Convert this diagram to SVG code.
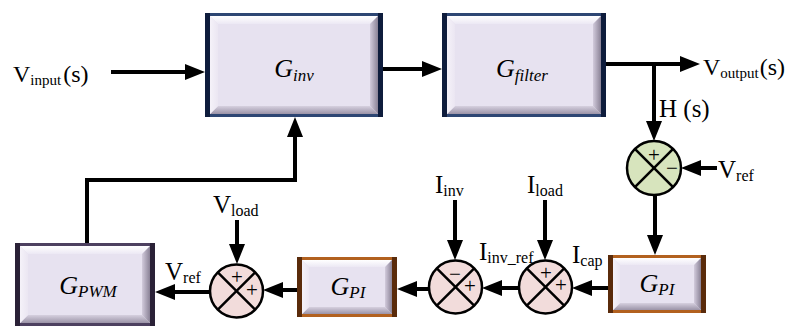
<svg xmlns="http://www.w3.org/2000/svg" width="789" height="327" viewBox="0 0 789 327">
<defs>
<style>
.face{fill:#e7e2f0}
.bt{fill:url(#gbt)}
.bb{fill:url(#gbb)}
.bl{fill:url(#gbl)}
.br{fill:url(#gbr)}
.navyS{fill:#0e1c3c}
.navyT{fill:#2d4673}
.purS{fill:#2a2137}
.purT{fill:#4d4060}
.brnS{fill:#5a2b0b}
.brnT{fill:#b2611f}
.wire{fill:none;stroke:#000;stroke-width:4;marker-end:url(#arr)}
.sum{stroke:#000;stroke-width:2.5}
.xl{stroke:#000;stroke-width:2.5}
.lbl{font-family:"Liberation Serif","Times New Roman",serif;font-size:25px;fill:#000}
.sub{font-size:16px}
.g{font-family:"Liberation Serif","Times New Roman",serif;font-style:italic;font-size:26px;fill:#000}
.gs{font-size:17px}
.sign{font-family:"Liberation Serif","Times New Roman",serif;font-size:21px;fill:#000;text-anchor:middle}
</style>
<linearGradient id="gbt" x1="0" y1="0" x2="0" y2="1"><stop offset="0" stop-color="#ffffff"/><stop offset="1" stop-color="#ece8f4"/></linearGradient>
<linearGradient id="gbb" x1="0" y1="0" x2="0" y2="1"><stop offset="0" stop-color="#d6d0df"/><stop offset="1" stop-color="#9b93a7"/></linearGradient>
<linearGradient id="gbl" x1="0" y1="0" x2="1" y2="0"><stop offset="0" stop-color="#f5f2f9"/><stop offset="1" stop-color="#ebe6f2"/></linearGradient>
<linearGradient id="gbr" x1="0" y1="0" x2="1" y2="0"><stop offset="0" stop-color="#d2cbdc"/><stop offset="1" stop-color="#8a8296"/></linearGradient>
<marker id="arr" viewBox="0 0 20 16" refX="10" refY="8" markerWidth="20" markerHeight="16" markerUnits="userSpaceOnUse" orient="auto">
<path d="M0,0 L20,8 L0,16 Z" fill="#000"/>
</marker>
</defs>

<g id="connectors">
<path class="wire" d="M111,72 H195"/>
<path class="wire" d="M383,69 H432"/>
<path class="wire" d="M606,64 H690"/>
<path class="wire" d="M654,64 V131"/>
<path class="wire" d="M717,168 H691"/>
<path class="wire" d="M655,195 V245"/>
<path class="wire" d="M608,288 H582"/>
<path class="wire" d="M519,288 H492"/>
<path class="wire" d="M429,289 H407"/>
<path class="wire" d="M297,290 H273"/>
<path class="wire" d="M210,292 H165"/>
<path class="wire" d="M455,200 V250"/>
<path class="wire" d="M545,200 V250"/>
<path class="wire" d="M237,220 V254"/>
<path class="wire" d="M87,243 V180 H295 V127"/>
</g>

<g id="G_inv">
<rect class="navyT" x="205" y="13" width="178" height="104"/>
<rect class="navyS" x="205" y="13" width="5" height="104"/>
<rect class="navyS" x="378" y="13" width="5" height="104"/>
<rect class="face" x="210" y="16" width="168" height="98"/>
<polygon class="bt" points="210,16 378,16 370,24 218,24"/>
<polygon class="bb" points="210,114 378,114 370,106 218,106"/>
<polygon class="bl" points="210,16 218,24 218,106 210,114"/>
<polygon class="br" points="378,16 370,24 370,106 378,114"/>
<text class="g" x="294" y="77" text-anchor="middle">G<tspan class="gs" dy="4">inv</tspan></text>
</g>

<g id="G_filter">
<rect class="navyT" x="442" y="13" width="164" height="104"/>
<rect class="navyS" x="442" y="13" width="5" height="104"/>
<rect class="navyS" x="601" y="13" width="5" height="104"/>
<rect class="face" x="447" y="16" width="154" height="98"/>
<polygon class="bt" points="447,16 601,16 593,24 455,24"/>
<polygon class="bb" points="447,114 601,114 593,106 455,106"/>
<polygon class="bl" points="447,16 455,24 455,106 447,114"/>
<polygon class="br" points="601,16 593,24 593,106 601,114"/>
<text class="g" x="522" y="77" text-anchor="middle">G<tspan class="gs" dy="4">filter</tspan></text>
</g>

<g id="G_PWM">
<rect class="purT" x="15" y="243" width="140" height="83"/>
<rect class="purS" x="15" y="243" width="5" height="83"/>
<rect class="purS" x="150" y="243" width="5" height="83"/>
<rect class="face" x="20" y="246" width="130" height="77"/>
<polygon class="bt" points="20,246 150,246 142,254 28,254"/>
<polygon class="bb" points="20,323 150,323 142,315 28,315"/>
<polygon class="bl" points="20,246 28,254 28,315 20,323"/>
<polygon class="br" points="150,246 142,254 142,315 150,323"/>
<text class="g" x="88" y="294" text-anchor="middle">G<tspan class="gs" dy="3">PWM</tspan></text>
</g>

<g id="G_PI_mid">
<rect class="brnT" x="297" y="257" width="100" height="60"/>
<rect class="brnS" x="297" y="257" width="5" height="60"/>
<rect class="brnS" x="392" y="257" width="5" height="60"/>
<rect class="face" x="302" y="260" width="90" height="54"/>
<polygon class="bt" points="302,260 392,260 385,267 309,267"/>
<polygon class="bb" points="302,314 392,314 385,307 309,307"/>
<polygon class="bl" points="302,260 309,267 309,307 302,314"/>
<polygon class="br" points="392,260 385,267 385,307 392,314"/>
<text class="g" x="348" y="295" text-anchor="middle">G<tspan class="gs" dy="3">PI</tspan></text>
</g>

<g id="G_PI_right">
<rect class="brnT" x="608" y="255" width="98" height="58"/>
<rect class="brnS" x="608" y="255" width="5" height="58"/>
<rect class="brnS" x="701" y="255" width="5" height="58"/>
<rect class="face" x="613" y="258" width="88" height="52"/>
<polygon class="bt" points="613,258 701,258 694,265 620,265"/>
<polygon class="bb" points="613,310 701,310 694,303 620,303"/>
<polygon class="bl" points="613,258 620,265 620,303 613,310"/>
<polygon class="br" points="701,258 694,265 694,303 701,310"/>
<text class="g" x="657" y="292" text-anchor="middle">G<tspan class="gs" dy="3">PI</tspan></text>
</g>

<g id="sum_V">
<circle class="sum" cx="654" cy="168" r="27" fill="#d7e4bd"/>
<line class="xl" x1="634.9" y1="148.9" x2="673.1" y2="187.1"/>
<line class="xl" x1="673.1" y1="148.9" x2="634.9" y2="187.1"/>
<text class="sign" x="654" y="162">+</text>
<text class="sign" x="672" y="175">−</text>
</g>

<g id="sum_Icap">
<circle class="sum" cx="545.5" cy="287" r="26.5" fill="#f2dcdb"/>
<line class="xl" x1="526.8" y1="268.3" x2="564.2" y2="305.7"/>
<line class="xl" x1="564.2" y1="268.3" x2="526.8" y2="305.7"/>
<text class="sign" x="546" y="280">+</text>
<text class="sign" x="561" y="292">+</text>
</g>

<g id="sum_Iinv">
<circle class="sum" cx="455.5" cy="287" r="26.5" fill="#f2dcdb"/>
<line class="xl" x1="436.8" y1="268.3" x2="474.2" y2="305.7"/>
<line class="xl" x1="474.2" y1="268.3" x2="436.8" y2="305.7"/>
<text class="sign" x="455" y="281">−</text>
<text class="sign" x="470" y="293">+</text>
</g>

<g id="sum_Vload">
<circle class="sum" cx="236.5" cy="291" r="26.5" fill="#f2dcdb"/>
<line class="xl" x1="217.8" y1="272.3" x2="255.2" y2="309.7"/>
<line class="xl" x1="255.2" y1="272.3" x2="217.8" y2="309.7"/>
<text class="sign" x="237" y="284">+</text>
<text class="sign" x="252" y="297">+</text>
</g>

<g id="labels">
<text class="lbl" x="13" y="82" style="font-size:24px">V<tspan style="font-size:15px" dy="3">input</tspan><tspan dx="2" dy="-3">(s)</tspan></text>
<text class="lbl" x="703" y="75" style="font-size:24px">V<tspan style="font-size:15px" dy="3">output</tspan><tspan dx="1" dy="-3">(s)</tspan></text>
<text class="lbl" x="659" y="117">H (s)</text>
<text class="lbl" x="718" y="178">V<tspan class="sub" dy="3">ref</tspan></text>
<text class="lbl" x="435" y="193">I<tspan class="sub" dy="3">inv</tspan></text>
<text class="lbl" x="527" y="193">I<tspan class="sub" dy="3">load</tspan></text>
<text class="lbl" x="479" y="260">I<tspan class="sub" dy="3">inv_ref</tspan></text>
<text class="lbl" x="572" y="263">I<tspan class="sub" dy="3">cap</tspan></text>
<text class="lbl" x="213" y="213">V<tspan class="sub" dy="3">load</tspan></text>
<text class="lbl" x="165" y="280">V<tspan class="sub" dy="3">ref</tspan></text>
</g>
</svg>
